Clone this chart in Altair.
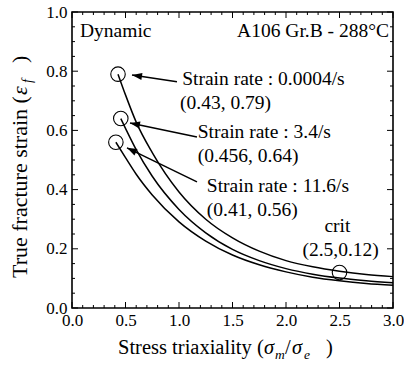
import math
import altair as alt
import pandas as pd

SERIF = "'Liberation Serif', 'Times New Roman', Times, 'DejaVu Serif', serif"

# ---- data ----
eta_1 = [0.43, 0.5, 0.6, 0.75, 1.0, 1.25, 1.5, 1.75, 2.0, 2.25, 2.5, 2.75, 3.0]
eps_1 = [0.79, 0.72, 0.628, 0.525, 0.392, 0.300, 0.237, 0.192, 0.160, 0.139, 0.124, 0.113, 0.106]

eta_2 = [0.456, 0.5, 0.6, 0.75, 1.0, 1.25, 1.5, 1.75, 2.0, 2.25, 2.5, 2.75, 3.0]
eps_2 = [0.64, 0.607, 0.535, 0.445, 0.333, 0.254, 0.198, 0.160, 0.133, 0.114, 0.101, 0.092, 0.085]

eta_3 = [0.41, 0.5, 0.6, 0.75, 1.0, 1.25, 1.5, 1.75, 2.0, 2.25, 2.5, 2.75, 3.0]
eps_3 = [0.56, 0.508, 0.452, 0.382, 0.291, 0.226, 0.179, 0.146, 0.122, 0.104, 0.092, 0.083, 0.077]

series_names = ["0.0004/s", "3.4/s", "11.6/s"]

marker_x = [0.43, 0.456, 0.41, 2.5]
marker_y = [0.79, 0.64, 0.56, 0.12]

ann_text = ["Strain rate : 0.0004/s", "(0.43, 0.79)",
            "Strain rate : 3.4/s", "(0.456, 0.64)",
            "Strain rate : 11.6/s", "(0.41, 0.56)"]
ann_x = [1.03, 1.01, 1.175, 1.175, 1.26, 1.26]
ann_y = [0.753, 0.671, 0.573, 0.492, 0.393, 0.312]

crit_text = ["crit", "(2.5,0.12)"]
crit_x = [2.48, 2.51]
crit_y = [0.258, 0.176]

arrow_tail_x = [0.981, 1.168, 1.168]
arrow_tail_y = [0.764, 0.578, 0.426]
arrow_tip_x = [0.561, 0.542, 0.514]
arrow_tip_y = [0.787, 0.625, 0.541]

x_major = [0.0, 0.5, 1.0, 1.5, 2.0, 2.5, 3.0]
x_minor = [round(i * 0.1, 1) for i in range(31) if i % 5 != 0]
y_major = [0.0, 0.2, 0.4, 0.6, 0.8, 1.0]
y_minor = [round(i * 0.05, 2) for i in range(21) if i % 4 != 0]

# ---- layout ----
W, H = 321, 296
PL, PT, PR, PB = 72, 12, 11, 70
PXU, PYU = W / 3.0, H / 1.0

rows = []
for name, xs_, ys_ in zip(series_names, [eta_1, eta_2, eta_3], [eps_1, eps_2, eps_3]):
    for a, b in zip(xs_, ys_):
        rows.append({"x": a, "y": b, "series": name})
curves = pd.DataFrame(rows)

markers = pd.DataFrame({"x": marker_x, "y": marker_y})
ann = pd.DataFrame({"x": ann_x, "y": ann_y, "t": ann_text})
crit = pd.DataFrame({"x": crit_x, "y": crit_y, "t": crit_text})

ang = []
for tx, ty, hx, hy in zip(arrow_tail_x, arrow_tail_y, arrow_tip_x, arrow_tip_y):
    dx = (hx - tx) * PXU
    dy = -(hy - ty) * PYU
    ang.append(math.degrees(math.atan2(dx, -dy)) % 360)
arrows = pd.DataFrame({"x": arrow_tail_x, "y": arrow_tail_y,
                       "x2": arrow_tip_x, "y2": arrow_tip_y, "a": ang})

xsc = alt.Scale(domain=[0, 3], nice=False, zero=False)
ysc = alt.Scale(domain=[0, 1], nice=False, zero=False)

xaxis = alt.Axis(values=x_major, format=".1f", labelFont=SERIF, labelFontSize=17,
                 labelColor="black", ticks=False, domain=False, grid=False, title=None,
                 labelPadding=4, labelFlush=False, labelOverlap=False)
yaxis = alt.Axis(values=y_major, format=".1f", labelFont=SERIF, labelFontSize=17,
                 labelColor="black", ticks=False, domain=False, grid=False, title=None,
                 labelPadding=5, labelOverlap=False)


def X(f):
    return alt.X(f"{f}:Q", scale=xsc, axis=xaxis)


def Y(f):
    return alt.Y(f"{f}:Q", scale=ysc, axis=yaxis)


lines = alt.Chart(curves).mark_line(color="black", strokeWidth=1.5, interpolate="monotone").encode(
    x=X("x"), y=Y("y"), detail="series:N",
)

circles = alt.Chart(markers).mark_point(shape="circle", filled=False, size=210,
                                        stroke="black", strokeWidth=1.1, opacity=1).encode(
    x=X("x"), y=Y("y"),
)

arrow_lines = alt.Chart(arrows).mark_rule(color="black", strokeWidth=1.5).encode(
    x=X("x"), y=Y("y"), x2="x2:Q", y2="y2:Q",
)
arrow_heads = alt.Chart(arrows).mark_point(shape="M0,0 L-0.35,1 L0.35,1 Z", filled=True,
                                           fill="black", strokeWidth=0, size=400, opacity=1).encode(
    x=X("x2"), y=Y("y2"), angle=alt.Angle("a:Q", scale=None),
)

ann_layer = alt.Chart(ann).mark_text(align="left", baseline="alphabetic", font=SERIF,
                                     fontSize=19.5, color="black").encode(
    x=X("x"), y=Y("y"), text="t:N")
crit_layer = alt.Chart(crit).mark_text(align="center", baseline="alphabetic", font=SERIF,
                                       fontSize=19.5, color="black").encode(
    x=X("x"), y=Y("y"), text="t:N")


def label(s, px, py, size, style="normal", align="left", angle=0):
    kw = dict(align=align, baseline="alphabetic", font=SERIF, fontSize=size,
              fontStyle=style, color="black")
    if angle:
        kw["angle"] = angle
    return alt.Chart(pd.DataFrame({"t": [s]})).mark_text(**kw).encode(
        text="t:N", x=alt.value(px - PL), y=alt.value(py - PT))


texts = [
    label("Dynamic", 80, 37, 19.5),
    label("A106 Gr.B - 288°C", 389, 37, 19.5, align="right"),
    # x title
    label("Stress triaxiality (", 118, 354, 20.5),
    label("σ", 264, 354, 20.5, "italic"),
    label("m", 275, 359, 13.5, "italic"),
    label("/", 285, 354, 20.5),
    label("σ", 292, 354, 20.5, "italic"),
    label("e", 304, 359, 13.5, "italic"),
    label(")", 326, 354, 20.5),
    # y title
    label("True fracture strain (", 27, 278, 22, angle=270),
    label("ε", 27, 95, 22, "italic", angle=270),
    label("f", 32, 83, 14, "italic", angle=270),
    label(")", 27, 63, 22, angle=270),
]


def tick_layer(vals, field, length, side):
    df = pd.DataFrame({field: vals})
    m = alt.Chart(df).mark_rule(color="black", strokeWidth=1)
    if side == "bottom":
        return m.encode(x=X(field), y=alt.value(H), y2=alt.value(H - length))
    if side == "top":
        return m.encode(x=X(field), y=alt.value(0), y2=alt.value(length))
    if side == "left":
        return m.encode(y=Y(field), x=alt.value(0), x2=alt.value(length))
    return m.encode(y=Y(field), x=alt.value(W), x2=alt.value(W - length))


ticks = []
for side in ["bottom", "top"]:
    ticks.append(tick_layer(x_major, "tx", 6, side))
    ticks.append(tick_layer(x_minor, "tx", 3, side))
for side in ["left", "right"]:
    ticks.append(tick_layer(y_major, "ty", 6, side))
    ticks.append(tick_layer(y_minor, "ty", 3, side))

chart = alt.layer(lines, circles, arrow_lines, arrow_heads, ann_layer, crit_layer, *ticks, *texts).properties(
    width=W, height=H,
    autosize=alt.AutoSizeParams(type="none"),
    padding={"left": PL, "top": PT, "right": PR, "bottom": PB},
    background="white",
).configure_view(stroke="black", strokeWidth=1.6)

chart.save("out.html", embed_options={"renderer": "svg", "actions": False})
